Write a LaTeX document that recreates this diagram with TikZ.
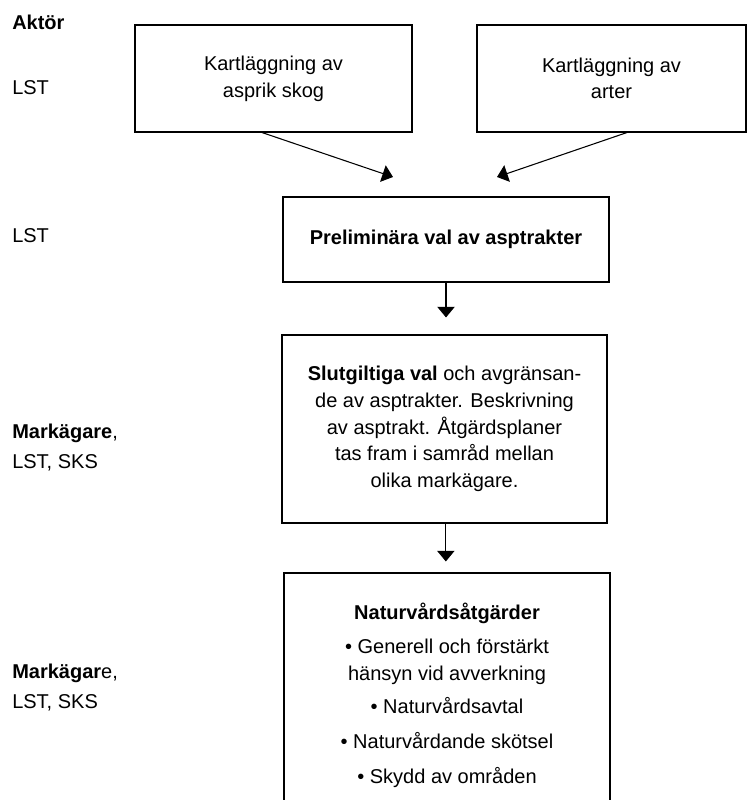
\documentclass[tikz,border=0pt]{standalone}
\usepackage{fontspec}
\setmainfont{Liberation Sans}
\usepackage{tikz}
\usetikzlibrary{positioning,arrows.meta}

\begin{document}
\begin{tikzpicture}[
        x=0.75pt, y=-0.75pt,
        every node/.style={font=\fontsize{15}{20}\selectfont},
        box/.style={rectangle, draw=black, line width=0.8pt, align=center, inner sep=0pt},
        actorlabel/.style={anchor=base west, inner sep=0pt},
        flow/.style={line width=0.8pt, -{Triangle[length=8pt,width=13pt]}}
    ]
        \useasboundingbox (0,0) rectangle (747,800);
        \clip (0,0) rectangle (747,800);

        % Actors
        \node[actorlabel] (aktor) at (12,29) {\textbf{Aktör}};
        \node[actorlabel] (lst1) at (12,94) {LST};
        \node[actorlabel] (lst2) at (12,242) {LST};
        \node[actorlabel] (mark1) at (12,438) {\textbf{Markägare},};
        \node[actorlabel] (mark1b) at (12,468) {LST, SKS};
        \node[actorlabel] (mark2) at (12,678) {\textbf{Markägar}e,};
        \node[actorlabel] (mark2b) at (12,708) {LST, SKS};

        % Boxes
        \node[box, minimum width=207.75pt, minimum height=80.25pt] (kart1) at (273.5,78.5)
            {Kartläggning av\\asprik skog};
        \node[box, minimum width=201.75pt, minimum height=80.25pt] (kart2) at (611.5,78.5)
            {Kartläggning av\\arter};
        \node[box, minimum width=244.5pt, minimum height=63.75pt] (prelim) at (446,239.5)
            {\textbf{Preliminära val av asptrakter}};
        \node[box, minimum width=243.75pt, minimum height=141pt] (slut) at (444.5,429)
            {\textbf{Slutgiltiga val} och avgränsan-\\de av asptrakter. Beskrivning\\av asptrakt. Åtgärdsplaner\\tas fram i samråd mellan\\olika markägare.};
        \node[box, minimum width=244.5pt, minimum height=183pt] (natur) at (447,695)
            {\textbf{Naturvårdsåtgärder}\\[6pt]
             • Generell och förstärkt\\hänsyn vid avverkning\\[5pt]
             • Naturvårdsavtal\\[6pt]
             • Naturvårdande skötsel\\[6pt]
             • Skydd av områden};

        % Connections
        \coordinate (tip1) at (393,177);
        \coordinate (tip2) at (497,177);
        \draw[flow] ([xshift=-8.6pt]kart1.south) -- (tip1);
        \draw[flow] ([xshift=11.6pt]kart2.south) -- (tip2);
        \draw[flow, shorten >=12.75pt] (prelim.south) -- (prelim.south |- slut.north);
        \draw[flow, shorten >=8.25pt] ([xshift=1pt]slut.south) -- ([xshift=1pt]slut.south |- natur.north);
    \end{tikzpicture}
\end{document}
